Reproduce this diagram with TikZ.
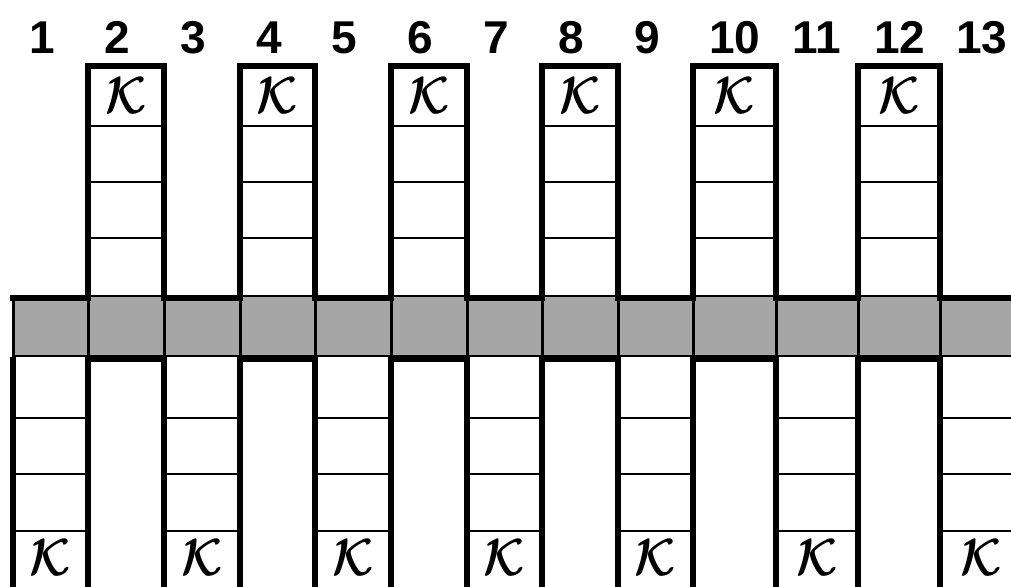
\documentclass[tikz,border=0pt]{standalone}
\usepackage{amsmath}
\usepackage{fontspec}
\newfontfamily\labelfont{Liberation Sans}
\definecolor{bandgray}{HTML}{A6A6A6}
\tikzset{
  thick line/.style={line width=6pt, draw=black},
  thin line/.style={line width=2.6pt, draw=black},
  collabel/.style={font=\labelfont\bfseries\fontsize{46}{50}\selectfont, anchor=base west, inner sep=0pt, outer sep=0pt},
  kmark/.style={inner sep=0pt, outer sep=0pt, font=\Huge}
}
\newcommand{\Kcal}{\scalebox{1.9}[2.1]{$\boldsymbol{\mathcal{K}}$}}
\begin{document}
\begin{tikzpicture}[x=1pt,y=-1pt]
\useasboundingbox (0,0) rectangle (1011,586);
\clip (0,0) rectangle (1011,586);
% grey band
\fill[bandgray] (13,296) rectangle (1011,357);
\draw[thin line] (13,296) -- (1011,296);
\draw[thin line] (13,356) -- (1011,356);
\foreach \x in {13,88,164,240,315,391,467,542,618,693,776,858,940}
  \draw[line width=3pt] (\x,296) -- (\x,357);
% upper (even) columns
\foreach \k/\l/\r in {2/88/164, 4/240/315, 6/391/467, 8/542/618, 10/693/776, 12/858/940}{
  \draw[thick line] (\l,297) -- (\l,66) -- (\r,66) -- (\r,297);
  \foreach \y in {126,182,238} \draw[thin line] (\l,\y) -- (\r,\y);
  \draw[thick line] (\l-3,359) -- (\r+3,359);
  \node[kmark] (ku\k) at ({(\l+\r)/2},96) {\Kcal};
}
% lower (odd) columns
\foreach \k/\l/\r in {1/13/88, 3/164/240, 5/315/391, 7/467/542, 9/618/693, 11/776/858, 13/940/1022}{
  \draw[thick line] (\l-3,297.5) -- (\r+3,297.5);
  \draw[thick line] (\l,357) -- (\l,590);
  \draw[thick line] (\r,357) -- (\r,590);
  \foreach \y in {418,474,531} \draw[thin line] (\l,\y) -- (\r,\y);
  \node[kmark] (kd\k) at ({(\l+\r)/2},558) {\Kcal};
}
% column numbers
\foreach \n/\x in {1/13,2/88,3/164,4/240,5/315,6/391,7/467,8/542,9/618,10/693,11/776,12/858,13/940}
  \node[collabel] (lab\n) at (\x+16,53) {\n};
\end{tikzpicture}
\end{document}
